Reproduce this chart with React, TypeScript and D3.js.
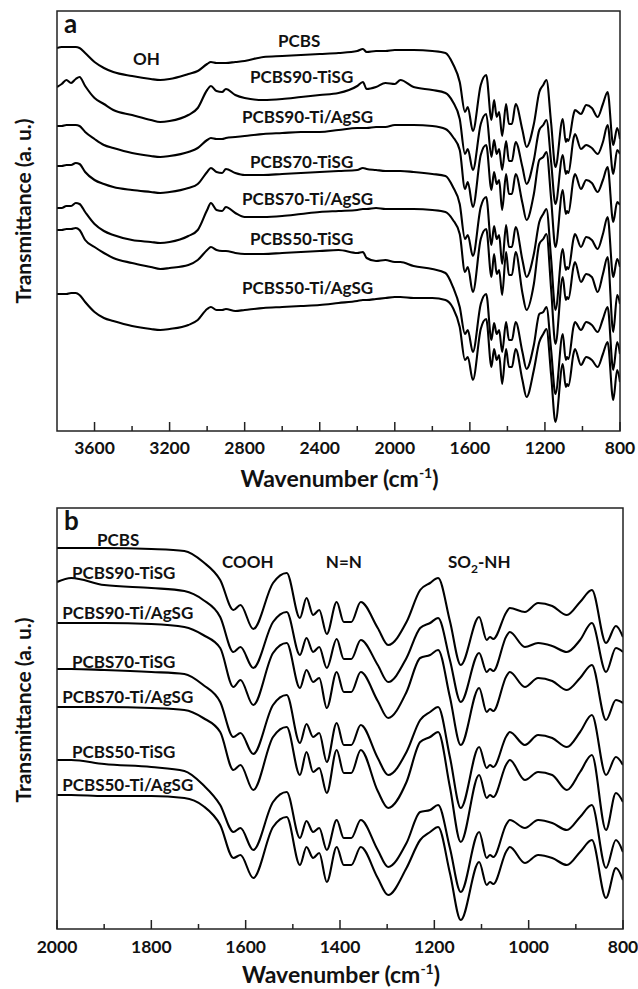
import React from 'react';
import * as d3 from 'd3';

// ---------- DATA ----------
const seriesNames = [
  'PCBS',
  'PCBS90-TiSG',
  'PCBS90-Ti/AgSG',
  'PCBS70-TiSG',
  'PCBS70-Ti/AgSG',
  'PCBS50-TiSG',
  'PCBS50-Ti/AgSG',
];

// high-wavenumber region (only shown in panel a), cm-1
const wnHigh = [3800, 3775, 3750, 3725, 3700, 3680, 3650, 3600, 3550, 3500, 3400, 3300, 3250, 3200, 3100, 3050, 3000, 2980, 2950, 2920, 2900, 2850, 2800, 2700, 2600, 2500, 2400, 2300, 2200, 2170, 2150, 2100, 2050];

// fingerprint region (panel a and b), cm-1
const wnFinger = [2000, 1970, 1900, 1800, 1730, 1690, 1654, 1626, 1611, 1584, 1542, 1513, 1485, 1471, 1457, 1444, 1428, 1407, 1392, 1376, 1356, 1320, 1298, 1259, 1230, 1209, 1192, 1167, 1144, 1105, 1089, 1082, 1075, 1047, 1040, 1008, 980, 950, 919, 891, 866, 836, 815, 800];

// stacked transmittance, arbitrary units
const pcbsHigh = [383, 384, 384, 384, 384, 383, 378, 369, 363, 359, 355, 352, 351, 352, 357, 360, 367, 369, 368, 368, 368, 369, 370, 374, 375, 376, 377, 378, 380, 382, 379, 380, 380];
const p90TiHigh = [344, 347, 351, 348, 352, 354, 345, 333, 327, 321, 316, 311, 309, 310, 316, 323, 341, 345, 340, 339, 342, 336, 333, 331, 332, 334, 336, 338, 345, 349, 342, 344, 348];
const p90AgHigh = [305, 305, 306, 306, 306, 305, 299, 292, 286, 283, 278, 275, 274, 275, 279, 283, 291, 293, 292, 292, 293, 294, 295, 297, 298, 299, 299, 301, 303, 303, 303, 304, 304];
const p70TiHigh = [265, 265, 266, 266, 268, 267, 259, 251, 247, 244, 241, 239, 238, 239, 243, 247, 259, 263, 259, 258, 262, 258, 256, 256, 257, 258, 259, 260, 261, 263, 262, 261, 260];
const p70AgHigh = [223, 223, 225, 225, 228, 227, 219, 207, 200, 196, 191, 189, 188, 189, 195, 201, 221, 228, 221, 220, 224, 218, 214, 214, 215, 217, 219, 220, 221, 222, 222, 223, 222];
const p50TiHigh = [201, 201, 202, 202, 203, 201, 191, 184, 178, 173, 168, 164, 162, 163, 166, 171, 181, 184, 181, 180, 180, 178, 177, 177, 178, 179, 180, 181, 178, 179, 173, 170, 171];
const p50AgHigh = [137, 137, 137, 138, 138, 136, 129, 119, 113, 110, 105, 102, 101, 102, 106, 111, 122, 124, 121, 121, 122, 120, 121, 123, 124, 125, 126, 128, 130, 131, 131, 132, 133];

const pcbsFinger = [381, 381, 381, 380, 378, 367, 349, 319, 324, 300, 346, 356, 311, 331, 314, 319, 295, 327, 307, 307, 327, 301, 284, 307, 339, 346, 351, 308, 264, 312, 289, 292, 290, 317, 321, 317, 326, 323, 314, 327, 339, 286, 303, 292];
const p90TiFinger = [347, 351, 344, 341, 338, 329, 312, 277, 282, 261, 307, 317, 274, 291, 277, 282, 261, 290, 270, 270, 289, 264, 247, 271, 301, 306, 311, 269, 227, 276, 257, 260, 258, 293, 297, 282, 286, 283, 277, 289, 306, 257, 281, 277];
const p90AgFinger = [306, 306, 306, 305, 302, 294, 281, 242, 249, 224, 276, 286, 241, 259, 247, 251, 221, 257, 237, 237, 257, 228, 211, 237, 271, 274, 279, 232, 184, 241, 217, 220, 218, 253, 257, 242, 251, 248, 239, 251, 264, 209, 229, 226];
const p70TiFinger = [260, 260, 259, 257, 255, 244, 227, 192, 196, 175, 224, 234, 186, 205, 192, 196, 167, 206, 184, 184, 204, 171, 154, 177, 209, 217, 222, 172, 121, 182, 161, 164, 162, 193, 197, 184, 194, 191, 182, 197, 214, 154, 172, 164];
const p70AgFinger = [222, 222, 222, 221, 219, 211, 197, 159, 164, 139, 192, 202, 154, 177, 157, 161, 136, 179, 156, 156, 179, 138, 121, 147, 187, 192, 197, 142, 87, 154, 131, 134, 132, 165, 169, 149, 157, 154, 139, 157, 174, 99, 136, 127];
const p50TiFinger = [169, 169, 165, 162, 158, 144, 124, 97, 101, 79, 127, 137, 91, 108, 97, 101, 79, 109, 91, 91, 109, 79, 62, 86, 117, 119, 124, 81, 37, 97, 71, 74, 72, 105, 109, 101, 109, 106, 99, 112, 124, 61, 89, 77];
const p50AgFinger = [134, 134, 133, 133, 131, 123, 104, 71, 74, 51, 102, 112, 64, 82, 71, 76, 47, 82, 64, 64, 82, 51, 34, 61, 89, 97, 102, 56, 9, 67, 44, 47, 45, 78, 82, 66, 74, 71, 64, 77, 89, 31, 61, 49];

const highSets = [pcbsHigh, p90TiHigh, p90AgHigh, p70TiHigh, p70AgHigh, p50TiHigh, p50AgHigh];
const fingerSets = [pcbsFinger, p90TiFinger, p90AgFinger, p70TiFinger, p70AgFinger, p50TiFinger, p50AgFinger];

// axis ticks
const aMajor = [3600, 3200, 2800, 2400, 2000, 1600, 1200, 800];
const aMinor = [3400, 3000, 2600, 2200, 1800, 1400, 1000];
const bMajor = [2000, 1800, 1600, 1400, 1200, 1000, 800];
const bMinor = [1900, 1700, 1500, 1300, 1100, 900];

// label anchors [wavenumber, a.u.]
const aLabelPos: [number, number][] = [[2622, 384], [2772, 348], [2814, 308], [2772, 263], [2814, 226], [2772, 186], [2814, 137]];
const bLabelPos: [number, number][] = [[1915, 383], [1968, 350], [1989, 310], [1968, 261], [1989, 226], [1968, 171], [1989, 138]];

// ---------- CHART ----------
const FONT = "Lato, 'Open Sans', sans-serif";

type PanelProps = {
  id: string;
  left: number; right: number; top: number; bottom: number;
  xDomain: [number, number]; yDomain: [number, number];
  major: number[]; minor: number[];
  curves: [number, number][][];
  labelPos: [number, number][];
  groups: { text: React.ReactNode; pos: [number, number] }[];
  letter: string;
  tickLabelY: number; titleY: number; yTitleY: number;
};

function Panel(p: PanelProps) {
  const x = d3.scaleLinear().domain(p.xDomain).range([p.left, p.right]);
  const y = d3.scaleLinear().domain(p.yDomain).range([p.bottom, p.top]);
  const line = d3.line<[number, number]>().x(d => x(d[0])).y(d => y(d[1])).curve(d3.curveMonotoneX);
  const cx = (p.left + p.right) / 2;
  return (
    <g>
      <defs>
        <clipPath id={`clip-${p.id}`}>
          <rect x={p.left} y={p.top} width={p.right - p.left} height={p.bottom - p.top} />
        </clipPath>
      </defs>
      <g clipPath={`url(#clip-${p.id})`}>
        {p.curves.map((c, i) => (
          <path key={i} d={line(c) || ''} fill="none" stroke="#000" strokeWidth={2.1} strokeLinejoin="round" />
        ))}
      </g>
      <rect x={p.left} y={p.top} width={p.right - p.left} height={p.bottom - p.top} fill="none" stroke="#222" strokeWidth={1.5} />
      {p.major.map(t => (
        <line key={'M' + t} x1={x(t)} x2={x(t)} y1={p.bottom} y2={p.bottom - 9} stroke="#222" strokeWidth={1.5} />
      ))}
      {p.minor.map(t => (
        <line key={'m' + t} x1={x(t)} x2={x(t)} y1={p.bottom} y2={p.bottom - 5} stroke="#222" strokeWidth={1.5} />
      ))}
      {p.major.map(t => (
        <text key={'L' + t} x={x(t)} y={p.tickLabelY} textAnchor="middle" fontFamily={FONT} fontWeight={700} fontSize={17.5} fill="#111">{t}</text>
      ))}
      <text x={cx + 1} y={p.titleY} textAnchor="middle" fontFamily={FONT} fontWeight={700} fontSize={23} fill="#111">
        Wavenumber (cm<tspan dy={-9} fontSize={14}>-1</tspan><tspan dy={9}>)</tspan>
      </text>
      <text transform={`translate(31,${p.yTitleY}) rotate(-90)`} textAnchor="middle" fontFamily={FONT} fontWeight={700} fontSize={21} fill="#111">
        Transmittance (a. u.)
      </text>
      <text x={p.left + 7} y={p.top + 22} fontFamily={FONT} fontWeight={700} fontSize={26} fill="#111">{p.letter}</text>
      {seriesNames.map((n, i) => (
        <text key={n} x={x(p.labelPos[i][0])} y={y(p.labelPos[i][1])} fontFamily={FONT} fontWeight={700} fontSize={17} fill="#111">{n}</text>
      ))}
      {p.groups.map((g, i) => (
        <text key={i} x={x(g.pos[0])} y={y(g.pos[1])} fontFamily={FONT} fontWeight={700} fontSize={17} fill="#111">{g.text}</text>
      ))}
    </g>
  );
}

export default function App() {
  const curvesA = highSets.map((h, i) => [
    ...wnHigh.map((w, j) => [w, h[j]] as [number, number]),
    ...wnFinger.map((w, j) => [w, fingerSets[i][j]] as [number, number]),
  ]);
  const curvesB = fingerSets.map(f => wnFinger.map((w, j) => [w, f[j]] as [number, number]));
  return (
    <svg width={638} height={989} style={{ position: 'absolute', left: 0, top: 0, background: '#fff' }}>
      <rect x={0} y={0} width={638} height={989} fill="#fff" />
      <Panel
        id="a" left={57} right={620} top={11} bottom={431}
        xDomain={[3800, 800]} yDomain={[0, 420]}
        major={aMajor} minor={aMinor} curves={curvesA} labelPos={aLabelPos}
        groups={[{ text: 'OH', pos: [3395, 366] }]}
        letter="a" tickLabelY={454} titleY={487} yTitleY={211}
      />
      <Panel
        id="b" left={57} right={623} top={508} bottom={929}
        xDomain={[2000, 800]} yDomain={[0, 421]}
        major={bMajor} minor={bMinor} curves={curvesB} labelPos={bLabelPos}
        groups={[
          { text: 'COOH', pos: [1650, 361] },
          { text: 'N=N', pos: [1430, 361] },
          { text: <>SO<tspan dy={5} fontSize={12}>2</tspan><tspan dy={-5}>-NH</tspan></>, pos: [1171, 361] },
        ]}
        letter="b" tickLabelY={953} titleY={983} yTitleY={710}
      />
    </svg>
  );
}
